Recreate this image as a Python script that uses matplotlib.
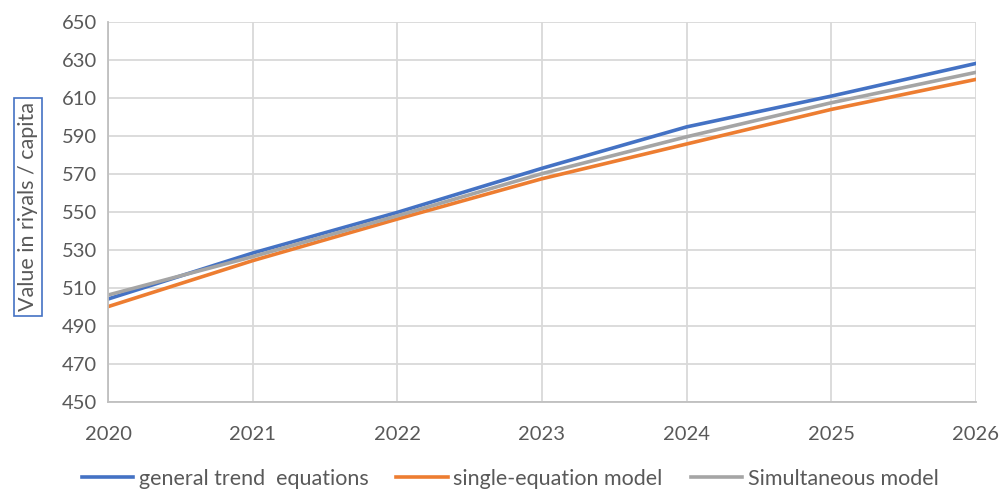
import matplotlib.pyplot as plt

years = [2020, 2021, 2022, 2023, 2024, 2025, 2026]
general_trend = [504.2, 528.4, 549.8, 573.0, 594.8, 611.0, 628.2]
single_equation = [500.2, 524.4, 546.3, 567.5, 585.8, 604.0, 619.8]
simultaneous = [506.3, 526.5, 548.0, 570.2, 589.6, 607.5, 623.5]
y_ticks = list(range(450, 651, 20))

plt.rcParams['font.family'] = ['Lato', 'DejaVu Sans']

fig = plt.figure(figsize=(10.04, 4.96), dpi=100)
ax = fig.add_axes([0.1076, 0.1895, 0.8644, 0.7661])

ax.plot(years, general_trend, color='#4472C4', lw=2.6, label='general trend  equations')
ax.plot(years, single_equation, color='#ED7D31', lw=2.6, label='single-equation model')
ax.plot(years, simultaneous, color='#A5A5A5', lw=2.6, label='Simultaneous model')

ax.set_xlim(2020, 2026)
ax.set_ylim(450, 650)
ax.set_xticks(years)
ax.set_yticks(y_ticks)
ax.grid(True, color='#D9D9D9', lw=1.3)
ax.set_axisbelow(True)
for s in ['top', 'right']:
    ax.spines[s].set_visible(False)
for s in ['left', 'bottom']:
    ax.spines[s].set_color('#BFBFBF')
    ax.spines[s].set_linewidth(1.3)
ax.tick_params(length=0, labelsize=14.5, labelcolor='#595959')
ax.tick_params(axis='x', pad=17)
ax.tick_params(axis='y', pad=8)

fig.text(0.028, 0.583, 'Value in riyals / capita', rotation=90, ha='center', va='center',
         fontsize=15.5, color='#595959',
         bbox=dict(boxstyle='square,pad=0.2', facecolor='white', edgecolor='#4472C4', lw=1.2))

fig.legend(loc='lower center', bbox_to_anchor=(0.508, -0.025), ncol=3, frameon=False,
           fontsize=15.5, handlelength=2.4, columnspacing=1.3, labelcolor='#595959',
           handletextpad=0.25)

plt.savefig('out.png', dpi=100)
